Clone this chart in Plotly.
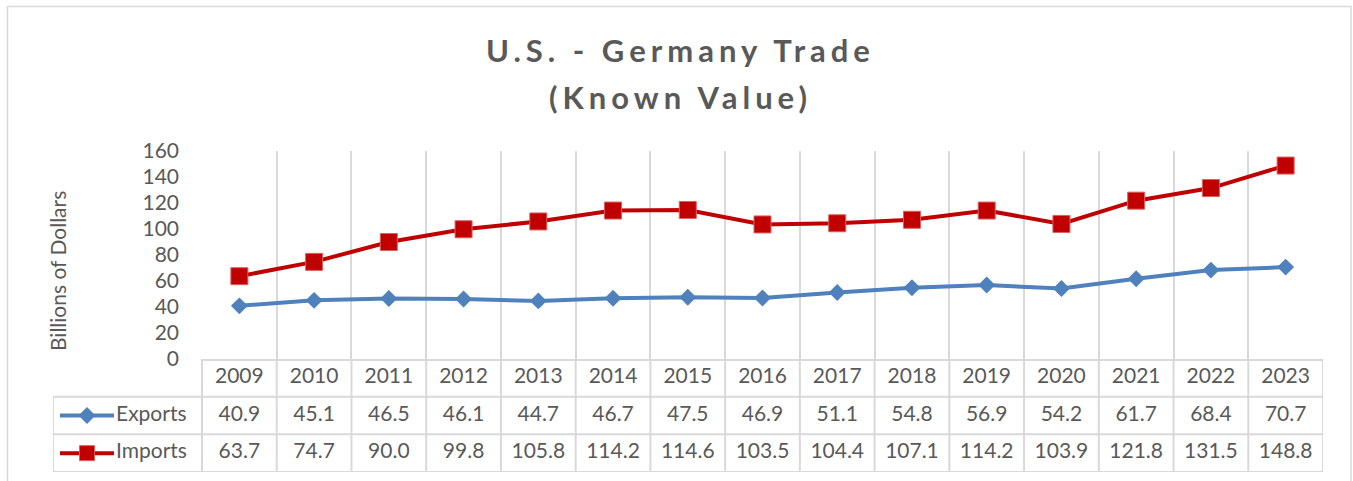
import plotly.graph_objects as go

# ---------------- data ----------------
years = [2009, 2010, 2011, 2012, 2013, 2014, 2015, 2016, 2017, 2018, 2019, 2020, 2021, 2022, 2023]
exports = [40.9, 45.1, 46.5, 46.1, 44.7, 46.7, 47.5, 46.9, 51.1, 54.8, 56.9, 54.2, 61.7, 68.4, 70.7]
imports = [63.7, 74.7, 90.0, 99.8, 105.8, 114.2, 114.6, 103.5, 104.4, 107.1, 114.2, 103.9, 121.8, 131.5, 148.8]
series_names = ["Exports", "Imports"]
y_ticks = [0, 20, 40, 60, 80, 100, 120, 140, 160]
title_lines = ["U.S. - Germany Trade", "(Known Value)"]
y_title = "Billions of Dollars"

# ---------------- layout geometry (px) ----------------
W, H = 1353, 481
PL, PR, PT, PB = 202, 1323, 151, 359      # plot area
TB = 472                                  # table bottom
LL = 53                                   # legend column left
FONT = "Lato, 'Open Sans', sans-serif"
TXT = "#595959"
GRID = "#d9d9d9"
BLUE = "#4F81BD"
RED = "#C00000"

ncat = len(years)
colw = (PR - PL) / ncat
x_lo = years[0] - 0.5
x_hi = years[-1] + 0.5
x_leg = x_lo - (PL - LL) / colw
bounds = [x_lo + k for k in range(ncat + 1)]


def px2x(px):
    return x_lo + (px - PL) / colw


fig = go.Figure()

# main lines
fig.add_trace(go.Scatter(
    x=years, y=exports, name=series_names[0], mode="lines+markers",
    line=dict(color=BLUE, width=4),
    marker=dict(symbol="diamond", size=13, color=BLUE),
    xaxis="x", yaxis="y", showlegend=False, hoverinfo="x+y"))
fig.add_trace(go.Scatter(
    x=years, y=imports, name=series_names[1], mode="lines+markers",
    line=dict(color=RED, width=4),
    marker=dict(symbol="square", size=17, color=RED, line=dict(color="#D9605E", width=1)),
    xaxis="x", yaxis="y", showlegend=False, hoverinfo="x+y"))

# data table text
row_year, row_exp, row_imp = 2.5, 1.5, 0.5
tfont = dict(family=FONT, size=21, color=TXT)
fig.add_trace(go.Scatter(
    x=years, y=[row_year] * ncat, text=[str(y) for y in years], mode="text",
    textfont=tfont, xaxis="x2", yaxis="y2", showlegend=False, hoverinfo="skip"))
fig.add_trace(go.Scatter(
    x=years, y=[row_exp] * ncat, text=[f"{v:.1f}" for v in exports], mode="text",
    textfont=tfont, xaxis="x2", yaxis="y2", showlegend=False, hoverinfo="skip"))
fig.add_trace(go.Scatter(
    x=years, y=[row_imp] * ncat, text=[f"{v:.1f}" for v in imports], mode="text",
    textfont=tfont, xaxis="x2", yaxis="y2", showlegend=False, hoverinfo="skip"))

# legend keys in the table
key_x0, key_x1, key_xm, key_tx = px2x(60), px2x(114), px2x(87), px2x(116)
for name, row, color, sym, size, mline in [
        (series_names[0], row_exp, BLUE, "diamond", 13, dict(width=0)),
        (series_names[1], row_imp, RED, "square", 15, dict(color="#D9605E", width=1))]:
    fig.add_trace(go.Scatter(
        x=[key_x0, key_x1], y=[row, row], mode="lines",
        line=dict(color=color, width=4), xaxis="x2", yaxis="y2",
        showlegend=False, hoverinfo="skip"))
    fig.add_trace(go.Scatter(
        x=[key_xm], y=[row], mode="markers",
        marker=dict(symbol=sym, size=size, color=color, line=mline),
        xaxis="x2", yaxis="y2", showlegend=False, hoverinfo="skip"))
    fig.add_trace(go.Scatter(
        x=[key_tx], y=[row], text=[name], mode="text", textposition="middle right",
        textfont=tfont, xaxis="x2", yaxis="y2", showlegend=False, hoverinfo="skip"))

# table grid
shapes = []
line_style = dict(color=GRID, width=2)
for b in bounds:
    shapes.append(dict(type="line", xref="x2", yref="y2", x0=b, x1=b, y0=0, y1=3, line=line_style, layer="below"))
shapes.append(dict(type="line", xref="x2", yref="y2", x0=x_leg, x1=x_leg, y0=0, y1=2, line=line_style, layer="below"))
for r in [0, 1, 2]:
    shapes.append(dict(type="line", xref="x2", yref="y2", x0=x_leg, x1=x_hi, y0=r, y1=r, line=line_style, layer="below"))
shapes.append(dict(type="line", xref="x2", yref="y2", x0=x_lo, x1=x_hi, y0=3, y1=3, line=line_style, layer="below"))
# outer chart border
shapes.append(dict(type="rect", xref="paper", yref="paper",
                   x0=7.5 / W, x1=1351 / W, y0=-0.05, y1=(H - 6.5) / H,
                   line=dict(color=GRID, width=1.5), layer="below"))

annotations = [
    dict(text=f'<span style="letter-spacing:5px">{title_lines[0]}</span>', xref="paper", yref="paper",
         x=680 / W, y=(H - 50) / H, xanchor="center", yanchor="middle", showarrow=False,
         font=dict(family=FONT, size=31, color=TXT, weight="bold")),
    dict(text=f'<span style="letter-spacing:5px">{title_lines[1]}</span>', xref="paper", yref="paper",
         x=680 / W, y=(H - 97) / H, xanchor="center", yanchor="middle", showarrow=False,
         font=dict(family=FONT, size=31, color=TXT, weight="bold")),
    dict(text=y_title, xref="paper", yref="paper", x=57 / W, y=(H - 271) / H,
         xanchor="center", yanchor="middle", textangle=-90, showarrow=False,
         font=dict(family=FONT, size=21, color=TXT)),
]

fig.update_layout(
    template="none",
    width=W, height=H, autosize=False, margin=dict(l=0, r=0, t=0, b=0, pad=0),
    paper_bgcolor="white", plot_bgcolor="white",
    font=dict(family=FONT, color=TXT),
    xaxis=dict(domain=[PL / W, PR / W], range=[x_lo, x_hi], anchor="y", automargin=False,
               tickmode="array", tickvals=bounds, showticklabels=False, ticks="",
               showgrid=True, gridcolor=GRID, gridwidth=2, zeroline=False,
               showline=True, linecolor=GRID, linewidth=2, fixedrange=True),
    yaxis=dict(domain=[(H - PB) / H, (H - PT) / H], range=[0, 160], anchor="x", automargin=False,
               tickmode="array", tickvals=y_ticks, ticks="", ticklabelstandoff=22,
               showgrid=False, zeroline=False, showline=False,
               tickfont=dict(family=FONT, size=21, color=TXT), fixedrange=True),
    xaxis2=dict(domain=[LL / W, PR / W], range=[x_leg, x_hi], anchor="y2", automargin=False,
                visible=False, fixedrange=True),
    yaxis2=dict(domain=[(H - TB) / H, (H - PB) / H], range=[0, 3], anchor="x2", automargin=False,
                visible=False, fixedrange=True),
    shapes=shapes, annotations=annotations, showlegend=False,
)

fig.write_html("out.html", config={"displayModeBar": False},
               post_script="document.body.style.margin='0';document.body.style.overflow='hidden';")
